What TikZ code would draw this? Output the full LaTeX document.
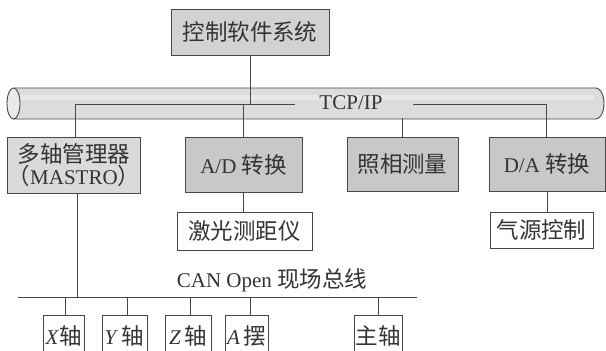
\documentclass[tikz,border=0pt]{standalone}
\usepackage{fontspec}
\setmainfont{Liberation Serif}
\newfontfamily\cjk[Scale=1.07]{Noto Sans CJK SC}
\definecolor{linec}{HTML}{474747}
\definecolor{pipefill}{HTML}{DCDCDC}
\definecolor{topfill}{HTML}{D2D2D2}
\definecolor{darkfill}{HTML}{C8C8C8}
\definecolor{lightfill}{HTML}{DADADA}
\begin{document}
\begin{tikzpicture}[x=1pt,y=-1pt,
  every node/.style={font=\fontsize{21}{23}\selectfont, text=black!80, inner sep=0pt, align=center},
  box/.style={draw=linec, line width=0.9pt},
  conn/.style={draw=linec, line width=0.9pt}]
\useasboundingbox (0,0) rectangle (606,351);
\clip (0,0) rectangle (606,351);
% pipe
\fill[pipefill] (13.5,88) -- (596,88) arc[start angle=270,end angle=450,x radius=8,y radius=15.5] -- (13.5,119) arc[start angle=90,end angle=270,x radius=6.5,y radius=15.5] -- cycle;
\fill[white!35!pipefill] (20,95) rectangle (594,100);
\draw[conn] (13.5,88) -- (596,88) arc[start angle=270,end angle=450,x radius=8,y radius=15.5] -- (13.5,119);
\draw[conn, fill=white!40!pipefill] (13.5,103.5) ellipse[x radius=6.5,y radius=15.5];
% nodes
\node[box, fill=topfill, minimum width=158pt, minimum height=46pt] (top) at (250,32) {\cjk 控制软件系统};
\node (tcp) at (351,103) {TCP/IP};
\node[box, fill=lightfill, minimum width=118pt, minimum height=56pt] (multi) at (74,165) {\cjk 多轴管理器\\[-1pt]{\cjk （}MASTRO{\cjk ）}};
\node[box, fill=darkfill, minimum width=117pt, minimum height=55pt] (ad) at (243.5,164.5) {A/D {\cjk 转换}};
\node[box, fill=darkfill, minimum width=111pt, minimum height=54pt] (photo) at (402.5,164) {\cjk 照相测量};
\node[box, fill=darkfill, minimum width=116pt, minimum height=54pt] (da) at (547,164) {D/A {\cjk 转换}};
\node[box, fill=white, minimum width=135pt, minimum height=38pt] (laser) at (244.5,231) {\cjk 激光测距仪};
\node[box, fill=white, minimum width=103pt, minimum height=36pt] (air) at (541.5,230) {\cjk 气源控制};
\node (can) at (272,280) {CAN Open {\cjk 现场总线}};
\node[box, fill=white, minimum width=41pt, minimum height=42pt] (xa) at (63.5,336) {\textit{X}{\cjk 轴}};
\node[box, fill=white, minimum width=45pt, minimum height=42pt] (ya) at (124.5,336) {\textit{Y}\,{\cjk 轴}};
\node[box, fill=white, minimum width=46pt, minimum height=42pt] (za) at (188,336) {\textit{Z}\,{\cjk 轴}};
\node[box, fill=white, minimum width=43pt, minimum height=42pt] (aa) at (246.5,336) {\textit{A}\,{\cjk 摆}};
\node[box, fill=white, minimum width=48pt, minimum height=42pt] (main) at (378,336) {\cjk 主轴};
% coordinates
\coordinate (tl) at (75,104);
\coordinate (tm) at (295,104);
\coordinate (tr0) at (413,104);
\coordinate (tr) at (546,104);
\coordinate (pb) at (403,118);
\coordinate (busL) at (18,297);
\coordinate (busR) at (417,297);
% connectors
\draw[conn] (top.south) -- (top.south |- tl);
\draw[conn] (tl) -- (tm);
\draw[conn] (tr0) -- (tr);
\draw[conn] (tl) -- (multi.north -| tl);
\draw[conn] (ad.north) -- (ad.north |- tl);
\draw[conn] (photo.north) -- (photo.north |- pb);
\draw[conn] (tr) -- (da.north -| tr);
\draw[conn] (ad.south) -- (laser.north -| ad.south);
\draw[conn] (da.south) -- (air.north -| da.south);
\draw[conn] (busL) -- (busR);
\draw[conn] ([xshift=3pt]multi.south) -- ([xshift=3pt]multi.south |- busL);
\draw[conn] ([xshift=1.5pt]xa.north) -- ([xshift=1.5pt]xa.north |- busL);
\draw[conn] ([xshift=2.5pt]ya.north) -- ([xshift=2.5pt]ya.north |- busL);
\draw[conn] ([xshift=2pt]za.north) -- ([xshift=2pt]za.north |- busL);
\draw[conn] ([xshift=3.5pt]aa.north) -- ([xshift=3.5pt]aa.north |- busL);
\draw[conn] (main.north) -- (main.north |- busL);
\end{tikzpicture}
\end{document}
